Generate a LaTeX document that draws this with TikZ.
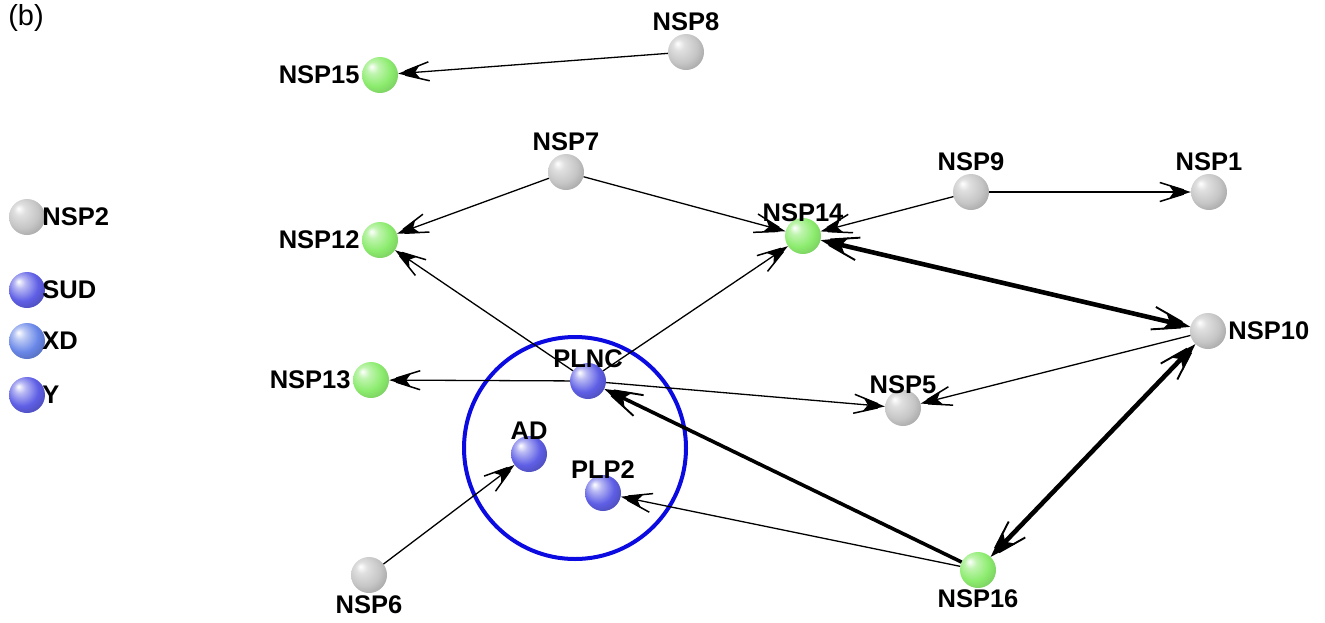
\documentclass[tikz,border=0pt]{standalone}
\usepackage{fontspec}
\setmainfont{Liberation Sans}
\usetikzlibrary{arrows.meta}
\definecolor{ggray}{RGB}{198,198,198}
\definecolor{ggreen}{RGB}{140,236,110}
\definecolor{gblue}{RGB}{95,95,230}
\definecolor{gxd}{RGB}{105,135,232}
\definecolor{ringblue}{RGB}{10,10,225}
\pgfdeclareradialshading{sgray}{\pgfpoint{-12bp}{12bp}}{color(0bp)=(white); color(8bp)=(ggray!55!white); color(22bp)=(ggray); color(30bp)=(ggray!88!black); color(50bp)=(ggray!75!black)}
\pgfdeclareradialshading{sgreen}{\pgfpoint{-12bp}{12bp}}{color(0bp)=(white); color(8bp)=(ggreen!55!white); color(22bp)=(ggreen); color(30bp)=(ggreen!90!black); color(50bp)=(ggreen!75!black)}
\pgfdeclareradialshading{sblue}{\pgfpoint{-12bp}{12bp}}{color(0bp)=(white); color(8bp)=(gblue!45!white); color(22bp)=(gblue); color(30bp)=(gblue!85!black); color(50bp)=(gblue!70!black)}
\pgfdeclareradialshading{sxd}{\pgfpoint{-12bp}{12bp}}{color(0bp)=(white); color(8bp)=(gxd!45!white); color(22bp)=(gxd); color(30bp)=(gxd!85!black); color(50bp)=(gxd!70!black)}
% feathered arrow tips
\pgfdeclarearrow{
  name = Feather,
  setup code = {
    \pgfarrowssettipend{0pt}
    \pgfarrowssetlineend{-10pt}
    \pgfarrowssetvisualbackend{-20pt}
    \pgfarrowssetbackend{-31pt}
    \pgfarrowshullpoint{0pt}{0pt}
    \pgfarrowshullpoint{-31pt}{10pt}
    \pgfarrowshullpoint{-31pt}{-10pt}
  },
  drawing code = {
    \pgfsetdash{}{0pt}\pgfsetmiterjoin
    \pgfpathmoveto{\pgfqpoint{0pt}{0pt}}
    \pgfpathlineto{\pgfqpoint{-22pt}{7pt}}
    \pgfpathlineto{\pgfqpoint{-17pt}{0pt}}
    \pgfpathlineto{\pgfqpoint{-22pt}{-7pt}}
    \pgfpathclose
    \pgfusepathqfill
    \pgfsetlinewidth{1.5pt}\pgfsetbuttcap
    \pgfpathmoveto{\pgfqpoint{-7pt}{2pt}}
    \pgfpathlineto{\pgfqpoint{-31pt}{9.5pt}}
    \pgfpathmoveto{\pgfqpoint{-7pt}{-2pt}}
    \pgfpathlineto{\pgfqpoint{-31pt}{-9.5pt}}
    \pgfusepathqstroke
  }
}
\pgfdeclarearrow{
  name = BigFeather,
  setup code = {
    \pgfarrowssettipend{0pt}
    \pgfarrowssetlineend{-14pt}
    \pgfarrowssetvisualbackend{-25pt}
    \pgfarrowssetbackend{-38pt}
    \pgfarrowshullpoint{0pt}{0pt}
    \pgfarrowshullpoint{-38pt}{12pt}
    \pgfarrowshullpoint{-38pt}{-12pt}
  },
  drawing code = {
    \pgfsetdash{}{0pt}\pgfsetmiterjoin
    \pgfpathmoveto{\pgfqpoint{0pt}{0pt}}
    \pgfpathlineto{\pgfqpoint{-27pt}{9pt}}
    \pgfpathlineto{\pgfqpoint{-21pt}{0pt}}
    \pgfpathlineto{\pgfqpoint{-27pt}{-9pt}}
    \pgfpathclose
    \pgfusepathqfill
    \pgfsetlinewidth{1.9pt}\pgfsetbuttcap
    \pgfpathmoveto{\pgfqpoint{-9pt}{2.8pt}}
    \pgfpathlineto{\pgfqpoint{-38pt}{11.5pt}}
    \pgfpathmoveto{\pgfqpoint{-9pt}{-2.8pt}}
    \pgfpathlineto{\pgfqpoint{-38pt}{-11.5pt}}
    \pgfusepathqstroke
  }
}
\tikzset{
  x=1pt, y=-1pt,
  ball/.style={circle, minimum size=36pt, inner sep=0pt},
  grayball/.style={ball, shading=sgray},
  greenball/.style={ball, shading=sgreen},
  blueball/.style={ball, shading=sblue},
  xdball/.style={ball, shading=sxd},
  every label/.style={font=\fontsize{25.5}{25.5}\selectfont\bfseries, inner sep=1pt},
  edge/.style={line width=1.3pt, -{Feather}},
  thickedge/.style={line width=3.6pt, -{BigFeather}},
  bothedge/.style={line width=4.6pt, {BigFeather}-{BigFeather}},
}
\begin{document}
\begin{tikzpicture}
\useasboundingbox (0,0) rectangle (1325,622);
\node[font=\fontsize{29}{29}\selectfont] (b) at (26,18) {(b)};
% legend
\node[grayball, label={[label distance=-4pt]right:NSP2}] (l1) at (27,217) {};
\node[blueball, label={[label distance=-4pt]right:SUD}] (l2) at (27,290) {};
\node[xdball, label={[label distance=-4pt]right:XD}] (l3) at (27,341) {};
\node[blueball, label={[label distance=-4pt]right:Y}] (l4) at (27,395) {};
% ring
\node[circle, draw=ringblue, line width=4pt, minimum size=222pt, inner sep=0pt] (ring) at (575,448) {};
% nodes
\node[grayball, label={[label distance=2pt]above:NSP8}] (n8) at (686,52) {};
\node[greenball, label={[label distance=1pt]left:NSP15}] (n15) at (380,75) {};
\node[grayball, label={[label distance=2pt]above:NSP7}] (n7) at (566,172) {};
\node[greenball, label={[label distance=1pt]left:NSP12}] (n12) at (380,240) {};
\node[grayball, label={[label distance=2pt]above:NSP9}] (n9) at (971,192) {};
\node[grayball, label={[label distance=2pt]above:NSP1}] (n1) at (1209,192) {};
\node[greenball, label={[label distance=-5pt]above:NSP14}] (n14) at (803,236) {};
\node[grayball, label={[label distance=1pt]right:NSP10}] (n10) at (1208,331) {};
\node[greenball, label={[label distance=1pt]left:NSP13}] (n13) at (371,380) {};
\node[blueball, label={[label distance=-6pt]above:PLNC}] (plnc) at (588,381) {};
\node[grayball, label={[label distance=-5pt]above:NSP5}] (n5) at (903,408) {};
\node[blueball, label={[label distance=-5pt]above:AD}] (ad) at (529,454) {};
\node[blueball, label={[label distance=-5pt]above:PLP2}] (plp2) at (603,493) {};
\node[grayball, label={[label distance=1pt]below:NSP6}] (n6) at (369,575) {};
\node[greenball, label={[label distance=0pt]below:NSP16}] (n16) at (978,570) {};
% edges
\draw[edge] (n8) -- (n15);
\draw[edge] (n7) -- (n12);
\draw[edge] (n7) -- (n14);
\draw[edge] (n9) -- (n14);
\draw[edge] (n9) -- (n1);
\draw[edge] (plnc) -- (n12);
\draw[edge] (plnc) -- (n14);
\draw[edge] (plnc) -- (n13);
\draw[edge] (plnc) -- (n5);
\draw[edge] (n10) -- (n5);
\draw[edge] (n16) -- (plp2);
\draw[edge] (n6) -- (ad);
\draw[thickedge] (n16) -- (plnc);
\draw[bothedge] (n14) -- (n10);
\draw[bothedge] (n10) -- (n16);
\end{tikzpicture}
\end{document}
